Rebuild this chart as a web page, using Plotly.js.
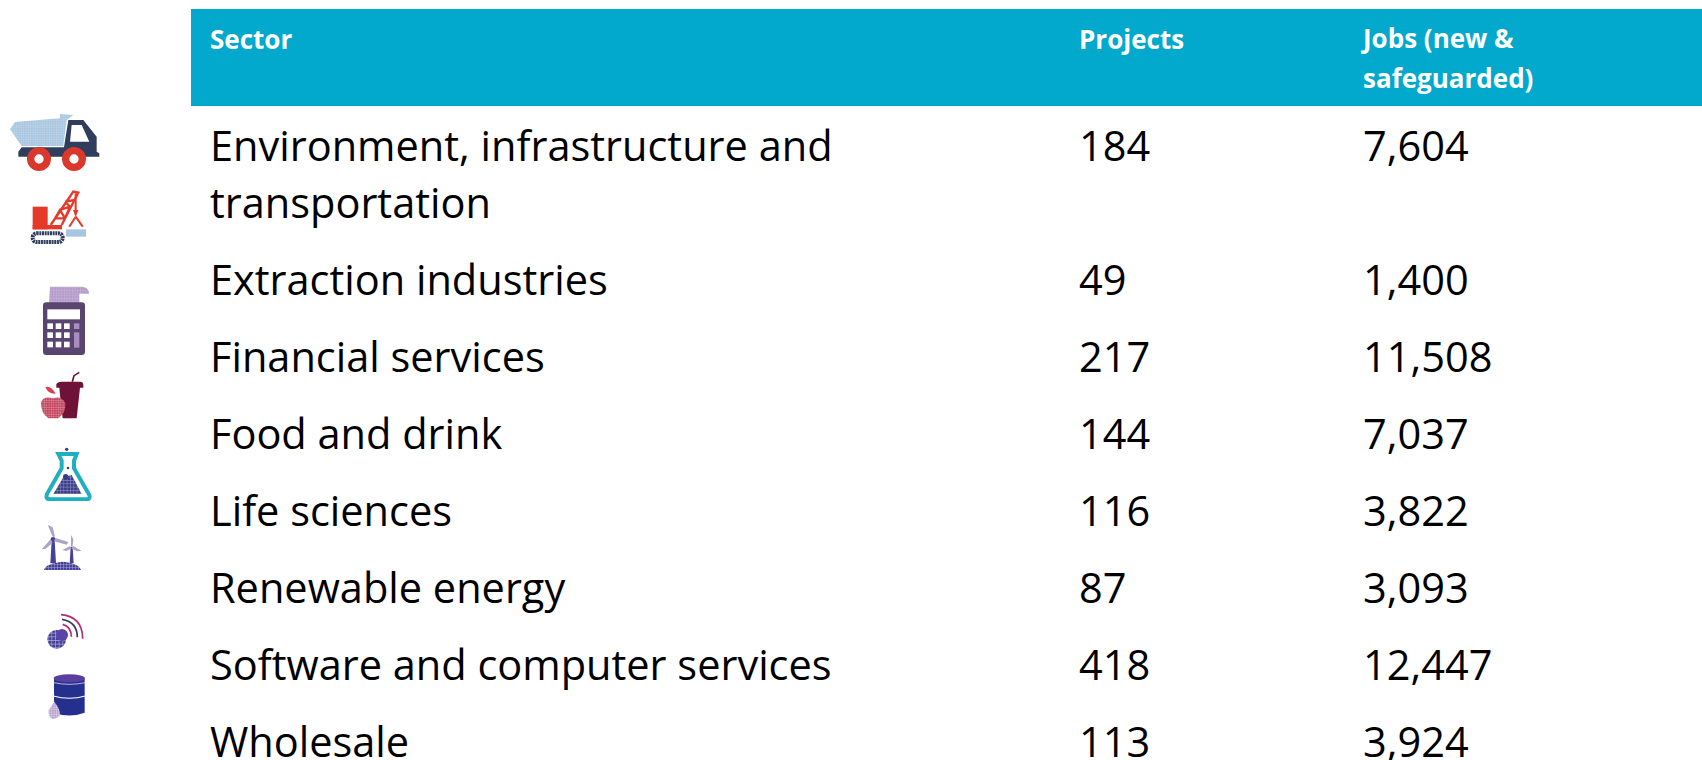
<!DOCTYPE html>
<html><head><meta charset="utf-8">
<script src="https://cdn.plot.ly/plotly-3.0.1.min.js"></script>
<style>html,body{margin:0;padding:0;background:#fff;overflow:hidden;width:1702px;height:760px}</style>
</head><body><div id="chart"></div>
<script>
const headerPlain = ['Sector', 'Projects', ''];
const headerJobsOne = ['', '', 'Jobs (new &'];
const headerJobsTwo = ['', '', 'safeguarded)'];
const sectorFirst = ['Environment, infrastructure and'];
const projectsFirst = ['184'];
const jobsFirst = ['7,604'];
const sectors = ['transportation', 'Extraction industries', 'Financial services', 'Food and drink', 'Life sciences', 'Renewable energy', 'Software and computer services', 'Wholesale'];
const projects = ['', '49', '217', '144', '116', '87', '418', '113'];
const jobs = ['', '1,400', '11,508', '7,037', '3,822', '3,093', '12,447', '3,924'];

const W = 1702, H = 830, FONT = '"Open Sans", sans-serif';
const colW = [11, 869, 284, 347];
const hatch = (id, bg, fg, s) => `<pattern id="${id}" width="${s}" height="${s}" patternUnits="userSpaceOnUse"><rect width="${s}" height="${s}" fill="${bg}"/><path d="M0 0H${s}M0 0V${s}" stroke="${fg}" stroke-width="${s/3}"/></pattern>`;
const icons = [
 {box:[25,60,275,190], ox:0, oy:90, svg:`<defs>${hatch('a','#A9C6E0','#C4D8EA',7)}</defs>
  <path d="M30 118 45 96 180 85 180 72 220 75 200 90 190 168 65 168Z" fill="url(#a)"/>
  <path d="M205 90H250L290 140V185L298 190V200H55V185L65 172H192Z" fill="#2F3E5C"/><path d="M215 105H245L268 155H210Z" fill="#fff"/>
  <circle cx="117" cy="207" r="25" fill="#fff" stroke="#D9382A" stroke-width="22"/><circle cx="222" cy="207" r="25" fill="#fff" stroke="#D9382A" stroke-width="22"/>`},
 {box:[85,295,180,175], ox:0, oy:90, svg:`<rect x="98" y="350" width="45" height="68" fill="#E5392A"/><rect x="98" y="405" width="88" height="13" fill="#E5392A"/>
  <path d="M152 405 220 305 235 308 185 405M165 385 195 385M180 360 210 350M195 335 225 330M165 385 180 360 195 385 210 350 195 335" fill="none" stroke="#E5392A" stroke-width="7"/>
  <path d="M227 310V365M227 380 208 410M227 380 248 410" fill="none" stroke="#E5392A" stroke-width="6"/><path d="M219 360H235L227 382Z" fill="#E5392A"/>
  <rect x="198" y="418" width="60" height="22" fill="#A9C6E0"/>
  <rect x="98" y="430" width="90" height="26" rx="12" fill="none" stroke="#2F3E5C" stroke-width="12" stroke-dasharray="6 2"/>`},
 {box:[125,575,145,222], ox:0, oy:90, svg:`<defs>${hatch('c','#B39AC8','#CBB9D9',8)}</defs><path d="M150 590H245Q265 590 268 611H238V640H147Z" fill="url(#c)"/>
  <rect x="129" y="637" width="126" height="158" rx="10" fill="#5A4570"/><rect x="142" y="658" width="98" height="30" fill="#fff"/>
  <g fill="#fff"><rect x="142" y="700" width="17" height="17"/><rect x="167" y="700" width="17" height="17"/><rect x="192" y="700" width="17" height="17"/><rect x="142" y="727" width="17" height="17"/><rect x="167" y="727" width="17" height="17"/><rect x="192" y="727" width="17" height="17"/><rect x="142" y="755" width="17" height="17"/><rect x="167" y="755" width="17" height="17"/><rect x="192" y="755" width="17" height="17"/></g>
  <rect x="222" y="700" width="16" height="17" fill="#A98DC0"/><rect x="222" y="727" width="16" height="46" fill="#A98DC0"/>`},
 {box:[25,15,140,150], ox:30, oy:365, svg:`<defs>${hatch('f','#C0405A','#E8A0AE',7)}</defs><path d="M127 50 132 32 148 22" fill="none" stroke="#6E1238" stroke-width="5"/>
  <path d="M79 58Q82 50 95 50H150Q160 50 160 60V68H150L140 160H98L92 110 88 68H79Z" fill="#6E1238"/>
  <path d="M46 66Q62 60 77 86 55 88 46 66Z" fill="#D9404F"/>
  <path d="M33 112Q40 92 68 100 95 90 106 115 108 145 85 160H55Q32 145 33 112Z" fill="url(#f)"/>`},
 {box:[115,78,170,165], ox:0, oy:420, svg:`<defs>${hatch('l','#3A3C88','#8C8FBD',10)}</defs><path d="M175 102H230L222 122V145L268 225Q272 238 258 238H152Q135 238 141 222L185 145V122Z" fill="#fff" stroke="#1FAFC0" stroke-width="12"/>
  <path d="M160 222 190 172 215 165 245 222Z" fill="url(#l)"/><circle cx="197" cy="170" r="8" fill="#3A3C88"/><circle cx="204" cy="144" r="4" fill="#3A3C88"/><circle cx="200" cy="88" r="5" fill="#3A3C88"/>`},
 {box:[115,310,135,145], ox:0, oy:420, svg:`<defs>${hatch('w','#47409A','#A8A4CF',9)}</defs><path d="M155 360H164L168 430H151ZM212 380H218L221 430H209Z" fill="#47409A"/>
  <path d="M132 450Q135 432 185 425 235 428 243 450Z" fill="url(#w)"/><circle cx="159" cy="358" r="7" fill="#47409A"/>
  <g fill="#ADA3C9"><path d="M158 350 143 314 158 322 165 350ZM166 354 205 366 200 374 162 364ZM152 358 125 388 137 386 158 368ZM213 378 213 345 220 358 218 378ZM219 378 245 392 232 394 215 386ZM211 378 187 390 198 393 214 386Z"/></g>`},
 {box:[135,575,120,115], ox:0, oy:420, svg:`<defs>${hatch('s','#47409A','#B2AFD6',11)}</defs><circle cx="170" cy="658" r="28" fill="url(#s)"/><circle cx="186" cy="645" r="18" fill="#5B44A8"/>
  <g fill="none" stroke-width="5"><path d="M188 613Q214 620 214 650" stroke="#B82A78"/><path d="M186 598Q232 606 232 652" stroke="#2F3E5C"/><path d="M183 584Q248 590 248 656" stroke="#B82A78"/></g>`},
 {box:[135,755,125,150], ox:0, oy:420, svg:`<defs>${hatch('b','#B9A5CE','#E3DAEC',7)}</defs><path d="M162 775V878Q208 895 254 878V775Z" fill="#25308E"/><ellipse cx="208" cy="775" rx="47" ry="12" fill="#5B3FA0"/>
  <path d="M160 828Q208 842 256 828" fill="none" stroke="#fff" stroke-width="3"/><path d="M161 788Q208 798 255 788" fill="none" stroke="#fff" stroke-width="2"/>
  <path d="M163 845Q182 870 180 885 172 898 155 896 143 885 146 870Z" fill="url(#b)"/>`}
];
const images = icons.map(ic => {
  const [x,y,w,h] = ic.box;
  const s = `<svg xmlns="http://www.w3.org/2000/svg" width="${w}" height="${h}" viewBox="${x} ${y} ${w} ${h}">${ic.svg}</svg>`;
  return {source:'data:image/svg+xml;charset=utf-8,'+encodeURIComponent(s), xref:'paper', yref:'paper', xanchor:'left', yanchor:'top',
    x:(ic.ox+x/3)/W, y:1-(ic.oy+y/3)/H, sizex:(w/3)/W, sizey:(h/3)/H, sizing:'stretch', layer:'above'};
});
const BODY = {family:FONT, size:41.5, color:'#000'};
const noLine = {width:0, color:'rgba(0,0,0,0)'};
const clear = {color:'rgba(0,0,0,0)'};
const X = [191/W, 1];
const emptyCells = {values:[[''],[''],[''],['']], fill:clear, line:noLine, height:1};
const HEAD = {family:FONT,size:26,color:'#fff',weight:700};
const headTable = (line, top) => ({type:'table', domain:{x:X, y:[1-(top+70)/H,1-top/H]}, columnwidth:colW,
  header:{values:['',...line], align:'left', height:50, fill:clear, line:noLine, font:HEAD}, cells:emptyCells});
const tableFirst = {type:'table', domain:{x:X, y:[1-(106+80)/H,1-106/H]}, columnwidth:colW,
  header:{values:[], line:noLine, fill:clear},
  cells:{values:[[''],sectorFirst,projectsFirst,jobsFirst], align:'left', height:72, fill:clear, line:noLine, font:BODY}};
const tableRest = {type:'table', domain:{x:X, y:[0,1-163/H]}, columnwidth:colW,
  header:{values:[], line:noLine, fill:clear},
  cells:{values:[sectors.map(()=>''),sectors,projects,jobs], align:'left', height:77, fill:clear, line:noLine, font:BODY}};
Plotly.newPlot('chart',[headTable(headerPlain,21),headTable(headerJobsOne,12),headTable(headerJobsTwo,60),tableFirst,tableRest],{width:W,height:H,margin:{l:0,r:0,t:0,b:0},paper_bgcolor:'#fff',showlegend:false,
  shapes:[{type:'rect',xref:'paper',yref:'paper',x0:191/W,x1:1,y0:1-106/H,y1:1-9/H,fillcolor:'#02A9CD',line:{width:0},layer:'below'}],
  images},{displayModeBar:false,staticPlot:true});
</script></body></html>
